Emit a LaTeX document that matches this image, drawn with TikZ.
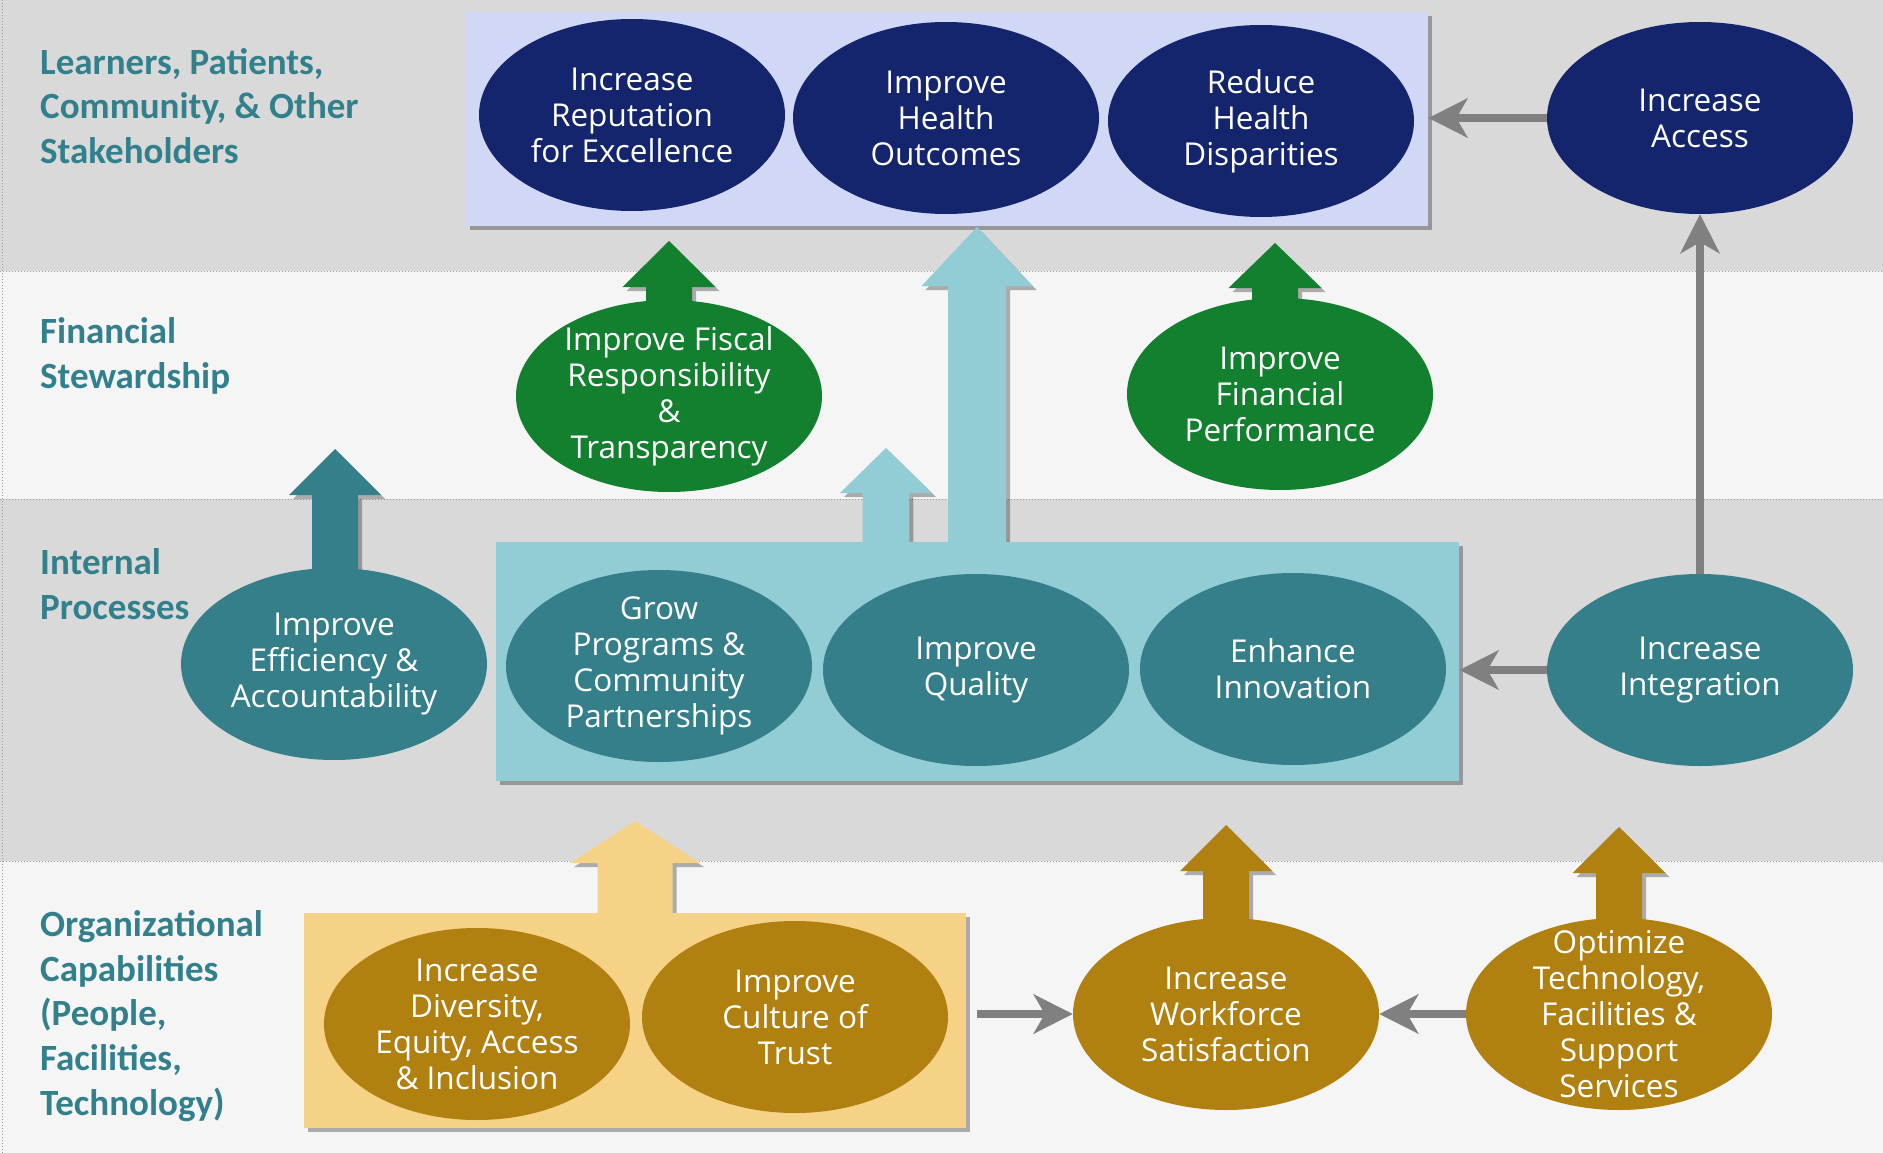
\documentclass[tikz,border=0pt]{standalone}
\usepackage{fontspec}
\setmainfont{Open Sans}
\newfontfamily\lblfont{Carlito}
\usetikzlibrary{shapes.geometric,arrows.meta,shadows,calc}
\definecolor{bandgray}{RGB}{217,217,217}
\definecolor{bandlight}{RGB}{245,245,245}
\definecolor{topboxc}{RGB}{208,216,245}
\definecolor{navyc}{RGB}{20,37,110}
\definecolor{greenc}{RGB}{19,128,48}
\definecolor{tealc}{RGB}{53,127,138}
\definecolor{lightbluec}{RGB}{146,205,214}
\definecolor{goldc}{RGB}{176,128,16}
\definecolor{yellowc}{RGB}{245,210,133}
\definecolor{arrowgray}{RGB}{128,128,128}
\definecolor{labelc}{RGB}{49,128,140}
\newcommand\blkarrow[7]{%
  \fill[#1, shd] (#2-#6,#3) -- (#2-#6,#4) -- (#2-#7,#4) -- (#2,#5) -- (#2+#7,#4) -- (#2+#6,#4) -- (#2+#6,#3) -- cycle;}
\begin{document}
\begin{tikzpicture}[x=1pt,y=-1pt,
  shd/.style={drop shadow={shadow xshift=4pt,shadow yshift=-4pt,opacity=0.3,fill=black}},
  oval/.style={ellipse, minimum width=306pt, minimum height=192pt, inner sep=0pt, draw=none},
  otext/.style={text=white, align=center, inner sep=0pt, font=\fontsize{31.5}{36}\selectfont},
  box/.style={rectangle, inner sep=0pt, anchor=north west, shd},
  lbl/.style={text=labelc, align=left, anchor=west, inner sep=0pt, font=\lblfont\bfseries\fontsize{37}{44.8}\selectfont},
  garrow/.style={draw=arrowgray, line width=8pt, -{Stealth[length=39pt,width=39pt,inset=11pt]}},
  sep/.style={draw=gray!80, dotted, line width=1pt}
]
\useasboundingbox (0,0) rectangle (1883,1153);
% bands
\fill[bandgray] (0,0) rectangle (1883,271);
\fill[bandlight] (0,271) rectangle (1883,499);
\fill[bandgray] (0,499) rectangle (1883,861);
\fill[bandlight] (0,861) rectangle (1883,1153);
\draw[sep] (0,271) -- (1883,271);
\draw[sep] (0,499) -- (1883,499);
\draw[sep] (0,861) -- (1883,861);
\draw[sep] (2,0) -- (2,1153);

% labels
\node[lbl] (l1) at (40,106) {Learners, Patients,\\Community, \& Other\\Stakeholders};
\node[lbl] (l2) at (40,356) {Financial\\Stewardship};
\node[lbl] (l3) at (40,584) {Internal\\Processes};
\node[lbl] (l4) at (40,1016) {Organizational\\Capabilities\\(People,\\Facilities,\\Technology)};

% top box
\node[box, fill=topboxc, minimum width=962pt, minimum height=214pt] (topbox) at (466,12) {};

% light blue arrows
\blkarrow{lightbluec}{977}{560}{286}{227}{29}{55.5}
\blkarrow{lightbluec}{886}{560}{493}{448}{23.3}{46}
% internal box
\node[box, fill=lightbluec, minimum width=963pt, minimum height=239pt] (intbox) at (496,542) {};

% green arrows
\blkarrow{greenc}{669}{360}{287}{241}{23}{46.5}
\blkarrow{greenc}{1275}{360}{288}{243}{23}{46.5}
% teal arrow
\blkarrow{tealc}{335}{620}{495}{449}{23}{46}

% yellow arrow and box
\blkarrow{yellowc}{635}{950}{863}{821}{37.5}{65}
\node[box, fill=yellowc, minimum width=662pt, minimum height=215pt] (ybox) at (304,913) {};
% gold arrows
\blkarrow{goldc}{1226}{960}{871}{825}{23}{46}
\blkarrow{goldc}{1619}{960}{873}{827}{23}{46.5}

% top ellipses
\node[oval, fill=navyc] (rep) at (632,115) {};
\node[otext] (rep-t) at (rep.center) {Increase\\Reputation\\for Excellence};
\node[oval, fill=navyc] (outc) at (946,118) {};
\node[otext] (outc-t) at (outc.center) {Improve\\Health\\Outcomes};
\node[oval, fill=navyc] (disp) at (1261,121) {};
\node[otext] (disp-t) at (disp.center) {Reduce\\Health\\Disparities};
\node[oval, fill=navyc] (access) at (1700,118) {};
\node[otext] (access-t) at (access.center) {Increase\\Access};

% financial
\node[oval, fill=greenc] (fiscal) at (669,396) {};
\node[otext] (fiscal-t) at (fiscal.center) {Improve Fiscal\\Responsibility\\\&\\Transparency};
\node[oval, fill=greenc] (finperf) at (1280,394) {};
\node[otext] (finperf-t) at (finperf.center) {Improve\\Financial\\Performance};

% internal
\node[oval, fill=tealc] (eff) at (334,664) {};
\node[otext] (eff-t) at (eff.center) {Improve\\Efficiency \&\\Accountability};
\node[oval, fill=tealc] (grow) at (659,666) {};
\node[otext] (grow-t) at (grow.center) {Grow\\Programs \&\\Community\\Partnerships};
\node[oval, fill=tealc] (qual) at (976,670) {};
\node[otext] (qual-t) at (qual.center) {Improve\\Quality};
\node[oval, fill=tealc] (innov) at (1293,669) {};
\node[otext] (innov-t) at (innov.center) {Enhance\\Innovation};
\node[oval, fill=tealc] (integ) at (1700,670) {};
\node[otext] (integ-t) at (integ.center) {Increase\\Integration};

% organizational
\node[oval, fill=goldc] (div) at (477,1024) {};
\node[otext] (div-t) at (div.center) {Increase\\Diversity,\\Equity, Access\\\& Inclusion};
\node[oval, fill=goldc] (cult) at (795,1017) {};
\node[otext] (cult-t) at (cult.center) {Improve\\Culture of\\Trust};
\node[oval, fill=goldc] (work) at (1226,1014) {};
\node[otext] (work-t) at (work.center) {Increase\\Workforce\\Satisfaction};
\node[oval, fill=goldc] (optim) at (1619,1014) {};
\node[otext] (optim-t) at (optim.center) {Optimize\\Technology,\\Facilities \&\\Support\\Services};

% gray connectors
\draw[garrow] (access.west) -- (access.west -| topbox.east);
\draw[garrow] (integ.west) -- (integ.west -| intbox.east);
\draw[garrow] (integ.north) -- (access.south);
\draw[garrow] ([xshift=11pt]ybox.east |- work.west) -- (work.west);
\draw[garrow] (optim.west) -- (work.east);
\end{tikzpicture}
\end{document}
